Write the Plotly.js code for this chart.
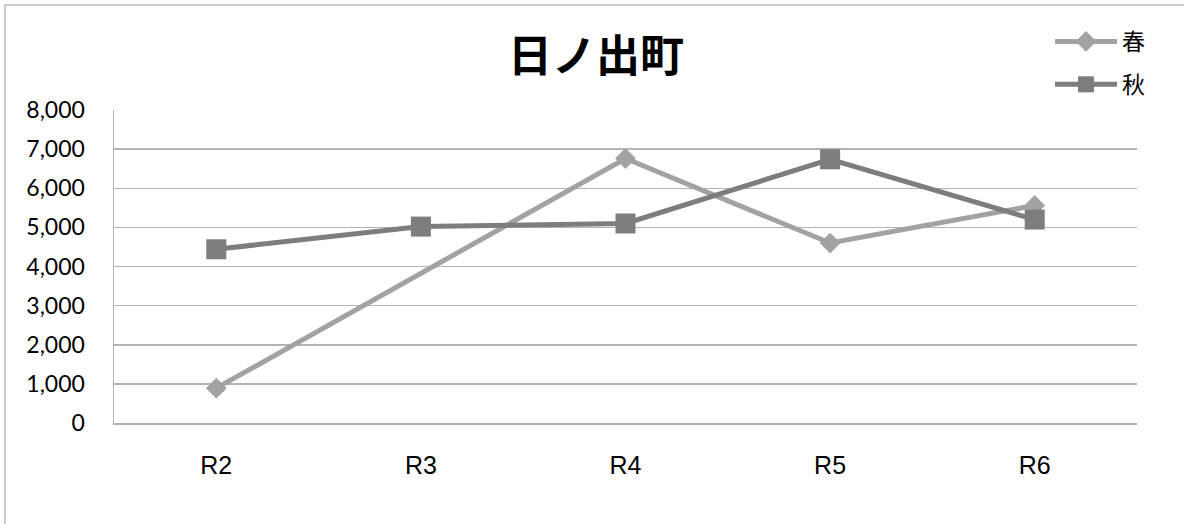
<!DOCTYPE html>
<html>
<head>
<meta charset="utf-8">
<script src="https://cdn.plot.ly/plotly-3.0.1.min.js"></script>
<style>html,body{margin:0;padding:0;background:#fff;}#chart{width:1184px;height:524px;}</style>
</head>
<body>
<div id="chart"></div>
<script>
const categories = ["R2", "R3", "R4", "R5", "R6"];
const springValues = [890, null, 6760, 4600, 5560];
const autumnValues = [4440, 5020, 5100, 6740, 5200];
const yTickValues = [0, 1000, 2000, 3000, 4000, 5000, 6000, 7000, 8000];
const yTickLabels = ["0", "1,000", "2,000", "3,000", "4,000", "5,000", "6,000", "7,000", "8,000"];

const L = 114, R = 1137, T = 110, B = 423;
const pw = R - L, ph = B - T;

const traces = [
  {
    x: categories, y: springValues, name: "春", type: "scatter", mode: "lines+markers",
    connectgaps: true, legendgroup: "a",
    line: {color: "#a2a2a2", width: 5},
    marker: {symbol: "diamond", size: 16, color: "#a2a2a2"}
  },
  {
    x: categories, y: autumnValues, name: "秋", type: "scatter", mode: "lines+markers",
    legendgroup: "b",
    line: {color: "#7d7d7d", width: 5},
    marker: {symbol: "square", size: 20, color: "#7d7d7d"}
  }
];

const layout = {
  width: 1184, height: 524,
  margin: {l: L, r: 1184 - R, t: T, b: 524 - B, pad: 0},
  paper_bgcolor: "#ffffff", plot_bgcolor: "#ffffff",
  title: {
    text: "<b>日ノ出町</b>",
    font: {family: "Noto Sans CJK JP", size: 44, color: "#000"},
    x: 596 / 1184, xanchor: "center", y: 1 - 57 / 524, yanchor: "middle"
  },
  xaxis: {
    type: "category", range: [-0.5, 4.5],
    showgrid: false, showline: true, linecolor: "#b0b0b0", linewidth: 2,
    ticks: "", tickfont: {family: "Liberation Sans", size: 25, color: "#000"},
    ticklabelstandoff: 19, fixedrange: true
  },
  yaxis: {
    range: [0, 8000], tickvals: yTickValues, ticktext: yTickLabels,
    showgrid: true, gridcolor: "#b4b4b4", gridwidth: 1.5,
    showline: true, linecolor: "#b4b4b4", linewidth: 1.5,
    zeroline: false, ticks: "",
    tickfont: {family: "Lato", size: 23, color: "#000"},
    ticklabelstandoff: 23, fixedrange: true
  },
  showlegend: true,
  legend: {
    x: (1050 - L) / pw, xanchor: "left",
    y: (B - 20) / ph, yanchor: "top",
    font: {family: "Noto Sans CJK JP", size: 23, color: "#000"},
    bgcolor: "rgba(0,0,0,0)", borderwidth: 0,
    tracegroupgap: 10, traceorder: "grouped", itemwidth: 62
  },
  shapes: [
    {type: "rect", xref: "paper", yref: "paper",
     x0: (5 - L) / pw, x1: 1.2, y0: -0.5, y1: (B - 5) / ph,
     line: {color: "#bcbcbc", width: 1.5}, fillcolor: "rgba(0,0,0,0)", layer: "below"}
  ]
};

Plotly.newPlot("chart", traces, layout, {displayModeBar: false, staticPlot: true});
</script>
</body>
</html>
